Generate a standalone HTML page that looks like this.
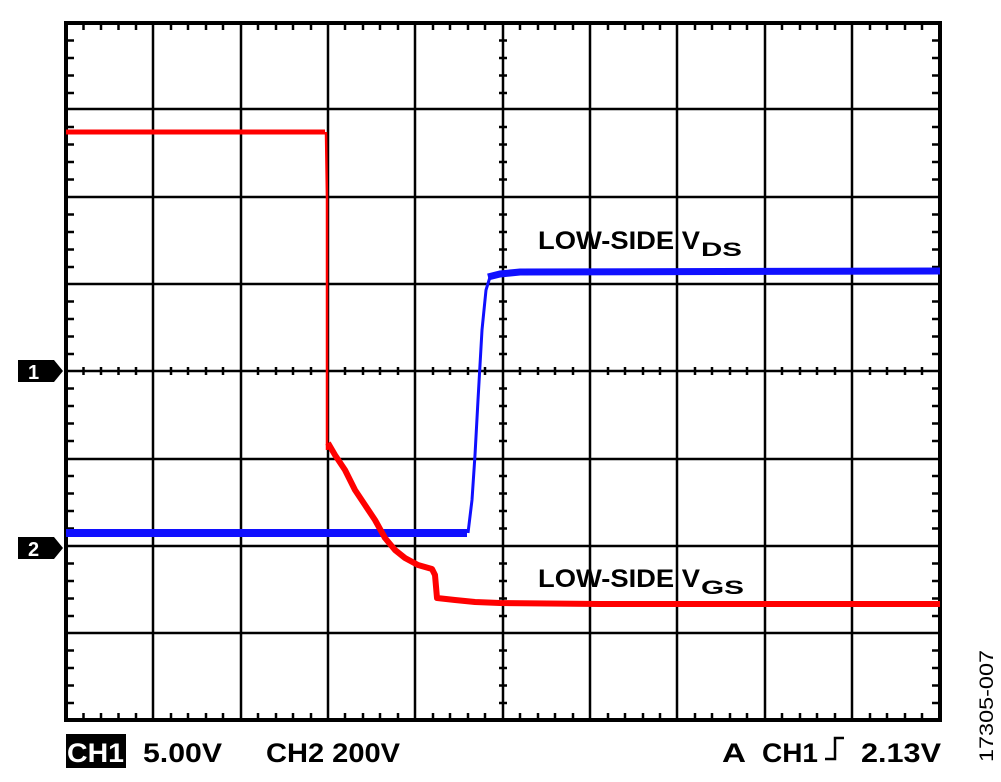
<!DOCTYPE html>
<html><head><style>
body{margin:0;background:#fff;}
svg{display:block;font-family:"Liberation Sans",sans-serif;}
</style></head><body>
<svg width="1001" height="782" xmlns="http://www.w3.org/2000/svg">
<g stroke="#000" stroke-width="2.5" fill="none">
<path d="M153 23V720M241 23V720M328 23V720M415 23V720M590 23V720M677 23V720M765 23V720M852 23V720"/>
<path d="M66 109H940M66 197H940M66 284H940M66 459H940M66 546H940M66 633H940"/>
<path d="M503 23V720M66 371H940" stroke-width="2.5"/>
</g>
<g stroke="#000" stroke-width="2.5" id="ticks">
<path d="
M83.5 23v7M101 23v7M118.5 23v7M136 23v7M171 23v7M188 23v7M206 23v7M223 23v7M258 23v7M276 23v7M293 23v7M311 23v7M345 23v7M363 23v7M380 23v7M398 23v7M433 23v7M450 23v7M468 23v7M485 23v7M520 23v7M538 23v7M555 23v7M573 23v7M608 23v7M625 23v7M643 23v7M660 23v7M695 23v7M712 23v7M730 23v7M747 23v7M782 23v7M800 23v7M817 23v7M835 23v7M870 23v7M887 23v7M905 23v7M922 23v7
M83.5 720v-7M101 720v-7M118.5 720v-7M136 720v-7M171 720v-7M188 720v-7M206 720v-7M223 720v-7M258 720v-7M276 720v-7M293 720v-7M311 720v-7M345 720v-7M363 720v-7M380 720v-7M398 720v-7M433 720v-7M450 720v-7M468 720v-7M485 720v-7M520 720v-7M538 720v-7M555 720v-7M573 720v-7M608 720v-7M625 720v-7M643 720v-7M660 720v-7M695 720v-7M712 720v-7M730 720v-7M747 720v-7M782 720v-7M800 720v-7M817 720v-7M835 720v-7M870 720v-7M887 720v-7M905 720v-7M922 720v-7
M83.5 367v8M101 367v8M118.5 367v8M136 367v8M171 367v8M188 367v8M206 367v8M223 367v8M258 367v8M276 367v8M293 367v8M311 367v8M345 367v8M363 367v8M380 367v8M398 367v8M433 367v8M450 367v8M468 367v8M485 367v8M520 367v8M538 367v8M555 367v8M573 367v8M608 367v8M625 367v8M643 367v8M660 367v8M695 367v8M712 367v8M730 367v8M747 367v8M782 367v8M800 367v8M817 367v8M835 367v8M870 367v8M887 367v8M905 367v8M922 367v8
M66 40.5h8M66 58h8M66 75.5h8M66 93h8M66 127h8M66 144.5h8M66 162h8M66 179.5h8M66 214.5h8M66 232h8M66 249.5h8M66 267h8M66 301.5h8M66 319h8M66 336.5h8M66 354h8M66 388.5h8M66 406h8M66 423.5h8M66 441h8M66 476h8M66 493.5h8M66 511h8M66 528.5h8M66 563.5h8M66 581h8M66 598.5h8M66 616h8M66 650.5h8M66 668h8M66 685.5h8M66 703h8
M940 40.5h-8M940 58h-8M940 75.5h-8M940 93h-8M940 127h-8M940 144.5h-8M940 162h-8M940 179.5h-8M940 214.5h-8M940 232h-8M940 249.5h-8M940 267h-8M940 301.5h-8M940 319h-8M940 336.5h-8M940 354h-8M940 388.5h-8M940 406h-8M940 423.5h-8M940 441h-8M940 476h-8M940 493.5h-8M940 511h-8M940 528.5h-8M940 563.5h-8M940 581h-8M940 598.5h-8M940 616h-8M940 650.5h-8M940 668h-8M940 685.5h-8M940 703h-8
M499 40.5h8M499 58h8M499 75.5h8M499 93h8M499 127h8M499 144.5h8M499 162h8M499 179.5h8M499 214.5h8M499 232h8M499 249.5h8M499 267h8M499 301.5h8M499 319h8M499 336.5h8M499 354h8M499 388.5h8M499 406h8M499 423.5h8M499 441h8M499 476h8M499 493.5h8M499 511h8M499 528.5h8M499 563.5h8M499 581h8M499 598.5h8M499 616h8M499 650.5h8M499 668h8M499 685.5h8M499 703h8"/>
</g>
<rect x="66" y="23" width="874" height="697" fill="none" stroke="#000" stroke-width="4"/>
<polyline fill="none" stroke="#1010ff" stroke-width="8" points="66,533 467,533"/>
<polyline fill="none" stroke="#1010ff" stroke-width="3" points="468,533 472,500 475,455 478,400 482,330 486,290 490,277"/>
<polyline fill="none" stroke="#1010ff" stroke-width="7" points="488,277 500,274 520,272 940,271"/>
<polyline fill="none" stroke="#ff0000" stroke-width="5" points="66,132 325,132"/>
<polyline fill="none" stroke="#ff0000" stroke-width="2.5" points="326,132 327,200 327,450"/>
<polyline fill="none" stroke="#ff0000" stroke-width="6" stroke-linejoin="round" points="328,443 335,455 345,470 355,490 365,505 375,520 385,538 395,550 405,558 418,565 432,569 435,575 437,598 455,600 475,602 500,603 600,604 940,604"/>
<g fill="#000">
<path d="M18 360h36l9 11-9 11h-36z"/>
<path d="M18 537h36l9 11-9 11h-36z"/>
<rect x="66" y="734" width="60" height="34"/>
</g>
<g font-weight="bold">
<text x="28" y="379" fill="#fff" font-size="20">1</text>
<text x="28" y="556" fill="#fff" font-size="20">2</text>
<text x="538" y="249" font-size="25" textLength="162" lengthAdjust="spacingAndGlyphs">LOW-SIDE V</text>
<text x="701" y="256" font-size="19" textLength="41" lengthAdjust="spacingAndGlyphs">DS</text>
<text x="538" y="587" font-size="25" textLength="162" lengthAdjust="spacingAndGlyphs">LOW-SIDE V</text>
<text x="701" y="594" font-size="19" textLength="43" lengthAdjust="spacingAndGlyphs">GS</text>
<g font-size="27">
<text x="67" y="762" fill="#fff" textLength="57" lengthAdjust="spacingAndGlyphs">CH1</text>
<text x="143" y="762" textLength="79" lengthAdjust="spacingAndGlyphs">5.00V</text>
<text x="266" y="762" textLength="134" lengthAdjust="spacingAndGlyphs">CH2 200V</text>
<text x="722" y="762" textLength="24" lengthAdjust="spacingAndGlyphs">A</text>
<text x="762" y="762" textLength="56" lengthAdjust="spacingAndGlyphs">CH1</text>
<text x="861" y="762" textLength="80" lengthAdjust="spacingAndGlyphs">2.13V</text>
</g>
</g>
<path d="M825 759h10v-21h9" fill="none" stroke="#000" stroke-width="2.5"/>
<text transform="translate(993,762) rotate(-90)" font-size="19" textLength="112" lengthAdjust="spacingAndGlyphs">17305-007</text>
</svg>
</body></html>
